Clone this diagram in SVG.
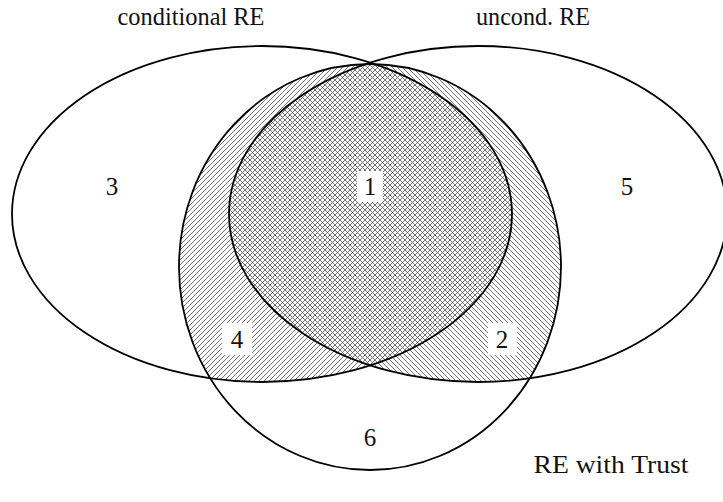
<svg xmlns="http://www.w3.org/2000/svg" width="723" height="502" viewBox="0 0 723 502">
<style>
.set{fill:none;stroke:#000;stroke-width:1.8}
.t{font-family:"Liberation Serif","Times New Roman",serif;font-size:25px;fill:#111;text-anchor:middle}
.box{fill:#fff;stroke:none}
</style>
<defs>
<pattern id="ne" patternUnits="userSpaceOnUse" width="5" height="5">
<path d="M-1,1 l2,-2 M0,5 l5,-5 M4,6 l2,-2" stroke="#444" stroke-width="0.75"/>
</pattern>
<pattern id="nw" patternUnits="userSpaceOnUse" width="5" height="5">
<path d="M-1,4 l2,2 M0,0 l5,5 M4,-1 l2,2" stroke="#444" stroke-width="0.75"/>
</pattern>
<clipPath id="trustClip"><ellipse cx="370" cy="267" rx="191" ry="203"/></clipPath>
</defs>
<g id="hatching" clip-path="url(#trustClip)">
<ellipse cx="262" cy="214" rx="250" ry="168" fill="url(#ne)"/>
<ellipse cx="478" cy="214" rx="249" ry="168" fill="url(#nw)"/>
</g>
<g id="conditional">
<ellipse class="set" cx="262" cy="214" rx="250" ry="168"/>
<text class="t" x="191" y="25" textLength="147" lengthAdjust="spacingAndGlyphs">conditional RE</text>
</g>
<g id="unconditional">
<ellipse class="set" cx="478" cy="214" rx="249" ry="168"/>
<text class="t" x="533" y="25" textLength="114" lengthAdjust="spacingAndGlyphs">uncond. RE</text>
</g>
<g id="trust">
<ellipse class="set" cx="370" cy="267" rx="191" ry="203"/>
<text class="t" x="611" y="473" textLength="155" lengthAdjust="spacingAndGlyphs">RE with Trust</text>
</g>
<g id="region1"><rect class="box" x="357" y="171" width="26" height="31"/><text class="t" x="370" y="195">1</text></g>
<g id="region2"><rect class="box" x="488" y="323" width="29" height="32"/><text class="t" x="502" y="348">2</text></g>
<g id="region3"><text class="t" x="112" y="195">3</text></g>
<g id="region4"><rect class="box" x="222" y="323" width="30" height="32"/><text class="t" x="237" y="348">4</text></g>
<g id="region5"><text class="t" x="627" y="195">5</text></g>
<g id="region6"><text class="t" x="370" y="446">6</text></g>
</svg>
